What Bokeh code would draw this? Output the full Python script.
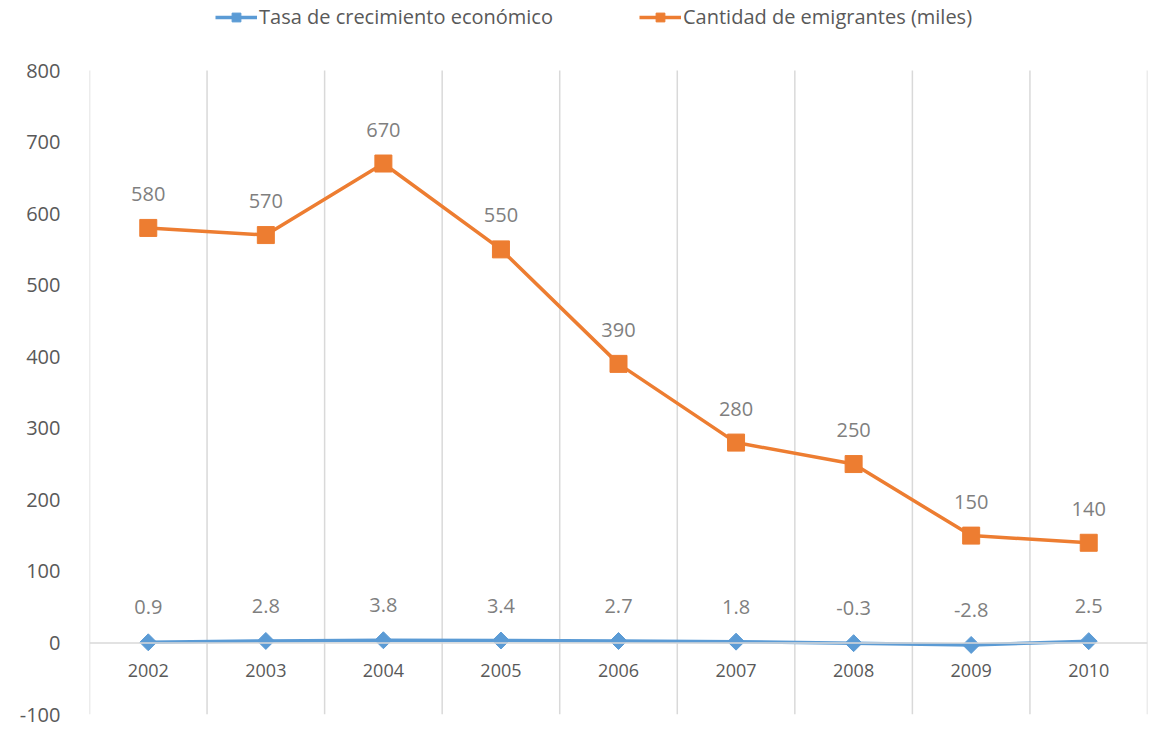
import math
from bokeh.plotting import figure
from bokeh.models import ColumnDataSource, FixedTicker, Legend, LegendItem, Span
from bokeh.core.properties import value
from bokeh.embed import file_html
from bokeh.resources import INLINE

years = ["2002", "2003", "2004", "2005", "2006", "2007", "2008", "2009", "2010"]
crecimiento = [0.9, 2.8, 3.8, 3.4, 2.7, 1.8, -0.3, -2.8, 2.5]
emigrantes = [580, 570, 670, 550, 390, 280, 250, 150, 140]
y_ticks = [-100, 0, 100, 200, 300, 400, 500, 600, 700, 800]

FONT = "Open Sans"
BLUE = "#5b9bd5"
ORANGE = "#ed7d31"
LABEL = "#595959"
DLABEL = "#7f7f7f"
GRID = "#d9d9d9"

# layout (pixels)
PLOT_H = 644          # height of the value area (-100..800)
TOP_PAD = 70          # room above the value area for the legend
y_lo, y_hi = y_ticks[0], y_ticks[-1]
y_top = y_hi + TOP_PAD * (y_hi - y_lo) / PLOT_H

xs = [i + 0.5 for i in range(len(years))]
bounds = list(range(len(years) + 1))

src_b = ColumnDataSource(dict(x=xs, y=crecimiento, t=[f"{v:.1f}" for v in crecimiento], yr=years))
src_o = ColumnDataSource(dict(x=xs, y=emigrantes, t=[str(v) for v in emigrantes]))
src_g = ColumnDataSource(dict(x=bounds, y0=[y_lo] * len(bounds), y1=[y_hi] * len(bounds)))

p = figure(frame_width=1058, frame_height=PLOT_H + TOP_PAD, x_range=(0, len(years)),
           y_range=(y_lo, y_top),
           output_backend="svg", toolbar_location=None,
           min_border_left=89, min_border_right=12, min_border_top=0, min_border_bottom=18)
p.outline_line_color = None
p.background_fill_color = "white"
p.border_fill_color = "white"

p.xaxis.visible = False
p.xgrid.grid_line_color = None
p.ygrid.grid_line_color = None

# vertical category separators (grid)
p.segment(x0="x", y0="y0", x1="x", y1="y1", source=src_g, line_color=GRID, line_width=1.5)

p.yaxis.ticker = FixedTicker(ticks=y_ticks)
p.yaxis.major_label_overrides = {t: str(t) for t in y_ticks}
p.yaxis.axis_line_color = None
p.yaxis.major_tick_line_color = None
p.yaxis.minor_tick_line_color = None
p.yaxis.major_label_standoff = 23
p.yaxis.major_label_text_font = FONT
p.yaxis.major_label_text_font_size = "20px"
p.yaxis.major_label_text_color = LABEL

zero = Span(location=0, dimension="width", line_color=GRID, line_width=1.5)
p.add_layout(zero)

# year labels under zero line
p.text(x="x", y=0, text="yr", source=src_b, text_font=value(FONT), text_font_size="18px",
       text_color=LABEL, text_align="center", text_baseline="middle", y_offset=28)

lb = p.line("x", "y", source=src_b, line_color=BLUE, line_width=3.5)
mb = p.scatter("x", "y", source=src_b, marker="square", size=12, angle=math.pi / 4,
               fill_color=BLUE, line_color=BLUE)
lo = p.line("x", "y", source=src_o, line_color=ORANGE, line_width=3.5)
mo = p.scatter("x", "y", source=src_o, marker="square", size=17, fill_color=ORANGE, line_color=ORANGE)

p.text(x="x", y="y", text="t", source=src_b, text_font=value(FONT), text_font_size="20px",
       text_color=DLABEL, text_align="center", text_baseline="middle", y_offset=-35)
p.text(x="x", y="y", text="t", source=src_o, text_font=value(FONT), text_font_size="20px",
       text_color=DLABEL, text_align="center", text_baseline="middle", y_offset=-34)

legend = Legend(items=[
    LegendItem(label="Tasa de crecimiento económico", renderers=[lb, mb]),
    LegendItem(label="Cantidad de emigrantes (miles)", renderers=[lo, mo]),
], orientation="horizontal", location=(126, 684))
legend.label_text_font = FONT
legend.label_text_font_size = "20px"
legend.label_text_color = LABEL
legend.glyph_width = 42
legend.glyph_height = 22
legend.label_standoff = 2
legend.spacing = 86
legend.border_line_color = None
legend.background_fill_alpha = 0
legend.padding = 0
legend.margin = 0
p.add_layout(legend)

open("out.html", "w").write(file_html(p, INLINE))
